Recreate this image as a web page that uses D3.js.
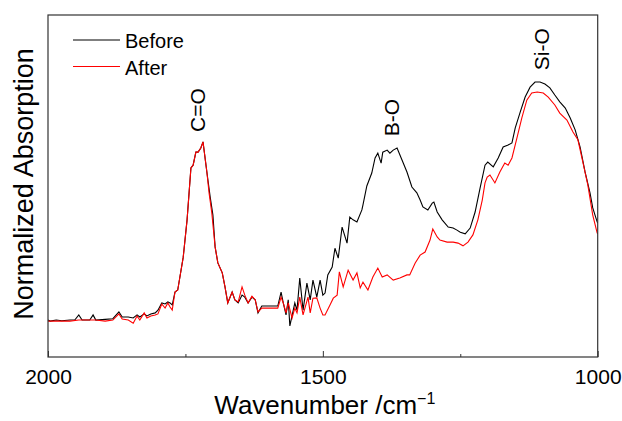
<!DOCTYPE html>
<html>
<head>
<meta charset="utf-8">
<script src="https://cdn.jsdelivr.net/npm/d3@7"></script>
<style>
  body { margin: 0; background: #fff; }
  svg text { font-family: "Liberation Sans", Arial, sans-serif; fill: #000; }
</style>
</head>
<body>
<div id="chart"></div>
<script>
// wavenumber (cm-1) and normalized absorption
var beforeWn = [2000,1996,1985,1975,1960,1951,1944,1938,1924,1918,1913,1896,1882,1871,1865,1854,1845,1838,1833,1825,1820,1813,1805,1800,1793,1787,1782,1778,1774,1769,1764,1754,1747,1740,1736,1731,1727,1722,1718,1711,1705,1700,1696,1691,1683,1678,1673,1665,1660,1654,1647,1642,1636,1629,1623,1618,1611,1596,1582,1576,1572,1567,1563,1560,1551,1547,1542,1536,1529,1523,1518,1511,1505,1500,1496,1491,1483,1478,1472,1465,1456,1451,1445,1438,1429,1427,1420,1411,1405,1400,1394,1391,1383,1378,1372,1365,1356,1347,1338,1329,1323,1318,1309,1301,1298,1292,1283,1272,1263,1256,1250,1241,1232,1223,1214,1205,1200,1190,1181,1172,1163,1156,1150,1141,1132,1123,1114,1105,1096,1087,1078,1069,1059,1050,1041,1032,1023,1014,1009,1001,1000];
var beforeAbs = [0.108,0.105,0.108,0.106,0.108,0.109,0.123,0.108,0.108,0.123,0.108,0.110,0.112,0.132,0.117,0.117,0.114,0.123,0.117,0.126,0.120,0.126,0.129,0.137,0.158,0.155,0.161,0.158,0.152,0.190,0.196,0.292,0.401,0.553,0.561,0.599,0.599,0.611,0.629,0.541,0.468,0.415,0.322,0.275,0.246,0.205,0.158,0.190,0.167,0.158,0.181,0.175,0.158,0.175,0.167,0.129,0.149,0.149,0.149,0.190,0.158,0.123,0.167,0.091,0.158,0.137,0.231,0.137,0.216,0.167,0.225,0.175,0.225,0.181,0.187,0.240,0.263,0.318,0.289,0.380,0.333,0.409,0.401,0.395,0.430,0.445,0.500,0.538,0.582,0.596,0.567,0.599,0.605,0.596,0.605,0.611,0.576,0.541,0.497,0.480,0.459,0.439,0.430,0.450,0.453,0.424,0.401,0.380,0.377,0.371,0.365,0.360,0.377,0.424,0.494,0.561,0.570,0.556,0.582,0.614,0.620,0.626,0.670,0.716,0.760,0.789,0.804,0.804,0.798,0.787,0.766,0.746,0.728,0.699,0.664,0.614,0.541,0.480,0.436,0.395,0.392];

var afterWn = [2000,1996,1985,1960,1944,1924,1913,1896,1882,1871,1865,1854,1845,1838,1833,1825,1820,1813,1805,1800,1793,1787,1782,1778,1774,1769,1764,1754,1747,1740,1736,1731,1727,1722,1718,1711,1707,1702,1696,1691,1683,1678,1673,1665,1660,1654,1647,1642,1636,1629,1623,1618,1611,1596,1582,1576,1572,1567,1563,1556,1551,1547,1542,1536,1527,1523,1518,1511,1505,1500,1496,1487,1481,1474,1470,1463,1454,1445,1438,1432,1427,1418,1409,1400,1392,1383,1372,1360,1347,1342,1332,1323,1314,1305,1300,1292,1287,1274,1263,1254,1245,1236,1227,1218,1210,1205,1201,1196,1187,1178,1169,1163,1156,1147,1138,1129,1120,1110,1099,1090,1078,1069,1056,1045,1036,1027,1018,1009,1001,1000];
var afterAbs = [0.105,0.105,0.105,0.105,0.108,0.108,0.108,0.105,0.108,0.126,0.111,0.108,0.099,0.120,0.108,0.129,0.114,0.120,0.123,0.126,0.155,0.143,0.158,0.146,0.137,0.190,0.196,0.292,0.401,0.553,0.561,0.599,0.599,0.611,0.629,0.541,0.480,0.421,0.322,0.275,0.246,0.205,0.158,0.190,0.167,0.161,0.205,0.181,0.158,0.178,0.167,0.132,0.143,0.143,0.143,0.175,0.158,0.129,0.158,0.114,0.143,0.129,0.175,0.123,0.175,0.129,0.172,0.173,0.143,0.123,0.123,0.152,0.172,0.181,0.249,0.205,0.254,0.225,0.246,0.202,0.219,0.196,0.234,0.260,0.234,0.240,0.225,0.231,0.240,0.240,0.275,0.298,0.307,0.342,0.374,0.351,0.342,0.336,0.336,0.333,0.325,0.336,0.357,0.401,0.459,0.509,0.526,0.532,0.509,0.541,0.567,0.561,0.582,0.640,0.699,0.751,0.772,0.775,0.772,0.760,0.737,0.713,0.693,0.658,0.635,0.570,0.503,0.415,0.363,0.360];

var majorTicks = [2000, 1500, 1000];
var minorTicks = [1750, 1250];
var peakNames = ["C=O", "B-O", "Si-O"];
var peakWn = [1714, 1361, 1089];
var peakAbs = [0.722, 0.70, 0.90];
var seriesNames = ["Before", "After"];
var seriesColors = ["#000000", "#ff0000"];

var width = 622, height = 421;
var margin = {top: 15, right: 24.3, bottom: 64, left: 48};
var w = width - margin.left - margin.right;
var h = height - margin.top - margin.bottom;

var svg = d3.select("#chart").append("svg")
  .attr("width", width)
  .attr("height", height)
  .append("g")
  .attr("transform", "translate(" + margin.left + "," + margin.top + ")");

var x = d3.scaleLinear().domain([2000, 1000]).range([0, w]);
var y = d3.scaleLinear().domain([0, 1]).range([h, 0]);

// major and minor ticks, pointing inward
var xAxis = svg.append("g")
  .attr("transform", "translate(0," + h + ")")
  .call(d3.axisBottom(x).tickValues(majorTicks).tickSize(-6).tickPadding(12).tickFormat(d3.format("d")));
xAxis.select(".domain").remove();
xAxis.selectAll("line").attr("stroke", "#333");
xAxis.selectAll("text").attr("font-size", 21).attr("font-family", "Liberation Sans, Arial, sans-serif").attr("fill", "#000");

var xMinor = svg.append("g")
  .attr("transform", "translate(0," + h + ")")
  .call(d3.axisBottom(x).tickValues(minorTicks).tickSize(-3).tickFormat(""));
xMinor.select(".domain").remove();
xMinor.selectAll("line").attr("stroke", "#333");

var line = d3.line()
  .x(function(d) { return x(d[0]); })
  .y(function(d) { return y(d[1]); });

var beforeData = d3.zip(beforeWn, beforeAbs);
var afterData = d3.zip(afterWn, afterAbs);

svg.append("path")
  .datum(beforeData)
  .attr("fill", "none")
  .attr("stroke", seriesColors[0])
  .attr("stroke-width", 1.1)
  .attr("d", line);

svg.append("path")
  .datum(afterData)
  .attr("fill", "none")
  .attr("stroke", seriesColors[1])
  .attr("stroke-width", 1.1)
  .attr("d", line);

// frame
svg.append("rect")
  .attr("x", 0).attr("y", 0)
  .attr("width", w).attr("height", h)
  .attr("fill", "none")
  .attr("stroke", "#333")
  .attr("stroke-width", 1.2);

// peak labels (baseline on the right side of the rotated text)
peakNames.forEach(function(name, i) {
  svg.append("text")
    .attr("transform", "translate(" + x(peakWn[i]) + "," + y(peakAbs[i]) + ") rotate(-90)")
    .attr("text-anchor", "middle")
    .attr("font-size", 21)
    .text(name);
});

// legend
var legend = svg.append("g").attr("transform", "translate(25,25)");
seriesNames.forEach(function(name, i) {
  legend.append("line")
    .attr("x1", 0).attr("x2", 47)
    .attr("y1", i * 26.5).attr("y2", i * 26.5)
    .attr("stroke", seriesColors[i])
    .attr("stroke-width", 1.1);
  legend.append("text")
    .attr("x", 52).attr("y", i * 26.5 + 8)
    .attr("font-size", 20)
    .text(name);
});

// axis titles
svg.append("text")
  .attr("x", w / 2 + 2)
  .attr("y", h + 57)
  .attr("text-anchor", "middle")
  .attr("font-size", 26)
  .html("Wavenumber /cm<tspan dy='-10' font-size='16'>\u22121</tspan>");

svg.append("text")
  .attr("transform", "translate(" + (-15.5) + "," + (h / 2 - 2) + ") rotate(-90)")
  .attr("text-anchor", "middle")
  .attr("font-size", 27)
  .text("Normalized Absorption");
</script>
</body>
</html>
